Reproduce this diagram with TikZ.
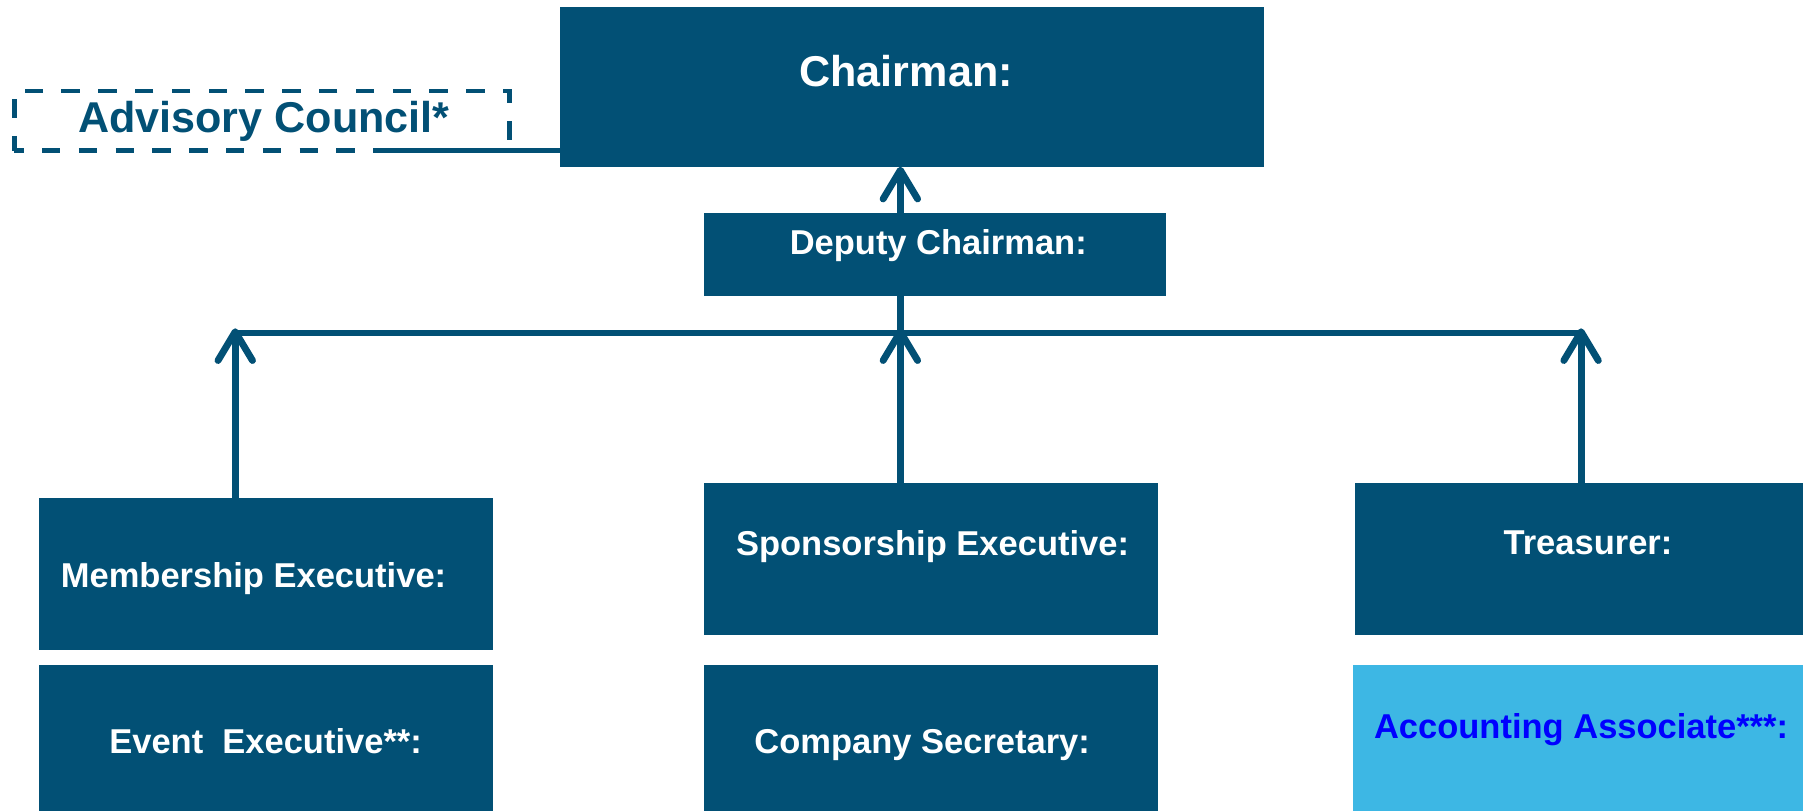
\documentclass[tikz,border=0pt]{standalone}
\usepackage{fontspec}
\setmainfont{Liberation Sans}
\usetikzlibrary{arrows.meta}
\definecolor{navy}{RGB}{2,80,117}
\definecolor{sky}{RGB}{61,183,228}
\definecolor{acctblue}{RGB}{0,0,255}
\begin{document}
\begin{tikzpicture}[x=1pt,y=-1pt,
  box/.style={fill=navy, draw=none, inner sep=0pt, outer sep=0pt, anchor=north west},
  txt/.style={text=white, font=\bfseries\fontsize{30}{36}\selectfont, inner sep=0pt, anchor=base},
  bigtxt/.style={txt, font=\bfseries\fontsize{37.5}{44}\selectfont},
  conn/.style={draw=navy, line width=4.6pt},
  vconn/.style={draw=navy, line width=6pt},
  arr/.style={vconn, -{Straight Barb[length=25pt,width=30pt,round]}}]
\useasboundingbox (0,0) rectangle (1568,705);
% boxes
\node[box, minimum width=612pt, minimum height=138.6pt] (chair) at (487,6.4) {};
\node[box, fill=none, draw=navy, line width=4pt, dash pattern=on 16pt off 16pt, dash phase=8pt,
      minimum width=430.4pt, minimum height=52pt] (adv) at (12.6,79) {};
\node[box, minimum width=401.7pt, minimum height=71.5pt] (deputy) at (612,185.5) {};
\node[box, minimum width=394.7pt, minimum height=132pt] (memb) at (34,433) {};
\node[box, minimum width=394.7pt, minimum height=127pt] (event) at (34,578) {};
\node[box, minimum width=395pt, minimum height=132pt] (spons) at (612,420) {};
\node[box, minimum width=395pt, minimum height=127pt] (comp) at (612,578) {};
\node[box, minimum width=390pt, minimum height=132pt] (treas) at (1178,420) {};
\node[box, fill=sky, minimum width=391pt, minimum height=127pt] (acct) at (1177,578) {};
% texts
\node[bigtxt, text=navy] (advT) at (229.5,115) {Advisory Council*};
\node[bigtxt] (chairT) at (788,75.4) {Chairman:};
\node[txt] (depT) at (816,221.7) {Deputy Chairman:};
\node[txt] (membT) at (220.5,510.6) {Membership Executive:};
\node[txt] (eventT) at (231,655.7) {Event\ \ Executive**:};
\node[txt] (sponsT) at (811,483.5) {Sponsorship Executive:};
\node[txt] (compT) at (802,655) {Company Secretary:};
\node[txt] (treasT) at (1381,481.8) {Treasurer:};
\node[txt, text=acctblue] (acctT) at (1375,642.6) {Accounting Associate***:};
% connectors
\coordinate (advEnd) at (336,131);
\coordinate (busL) at (204.6,289.5);
\coordinate (busM) at (783,289.5);
\coordinate (busR) at (1375,289.5);
\draw[conn] (chair.west |- advEnd) -- (advEnd);
\draw[conn] (busL) -- (busR);
\draw[vconn] (busM |- deputy.south) -- (busM);
\draw[arr] (busM |- deputy.north) -- (busM |- chair.south);
\draw[arr] (busL |- memb.north) -- ([yshift=4pt]busL);
\draw[arr] (busM |- spons.north) -- ([yshift=4pt]busM);
\draw[arr] (busR |- treas.north) -- ([yshift=4pt]busR);
\end{tikzpicture}
\end{document}
